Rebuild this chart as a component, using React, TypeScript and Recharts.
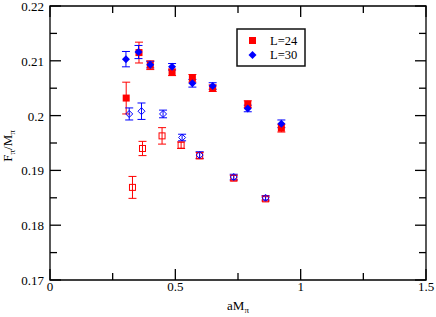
import React from 'react';
import { ScatterChart, Scatter, XAxis, YAxis, ErrorBar, ReferenceArea } from 'recharts';

// ---- data ----
const L24_X = [0.304, 0.355, 0.40, 0.487, 0.568, 0.649, 0.789, 0.923];
const L24_Y = [0.2032, 0.2115, 0.2092, 0.2079, 0.2068, 0.2050, 0.2021, 0.1977];
const L24_ERR = [0.0029, 0.0019, 0.0008, 0.0006, 0.0007, 0.0006, 0.0006, 0.0007];

const L30_X = [0.303, 0.353, 0.40, 0.487, 0.568, 0.649, 0.789, 0.923];
const L30_Y = [0.2103, 0.2116, 0.2093, 0.2089, 0.2059, 0.2054, 0.2013, 0.1985];
const L30_ERR = [0.0014, 0.0012, 0.0006, 0.0006, 0.0007, 0.0006, 0.0006, 0.0007];

const L24_OPEN_X = [0.329, 0.369, 0.447, 0.523, 0.597, 0.733, 0.860];
const L24_OPEN_Y = [0.1869, 0.1940, 0.1963, 0.1946, 0.1927, 0.1886, 0.1848];
const L24_OPEN_ERR = [0.0020, 0.0013, 0.0015, 0.0006, 0.0006, 0.0005, 0.0004];

const L30_OPEN_X = [0.316, 0.365, 0.451, 0.527, 0.597, 0.733, 0.860];
const L30_OPEN_Y = [0.2003, 0.2008, 0.2003, 0.1960, 0.1928, 0.1888, 0.1850];
const L30_OPEN_ERR = [0.0011, 0.0015, 0.0007, 0.0006, 0.0006, 0.0005, 0.0004];

const X_TICKS = [0, 0.25, 0.5, 0.75, 1, 1.25, 1.5];
const X_MAJOR = [0, 0.5, 1, 1.5];
const Y_TICKS = [0.17, 0.175, 0.18, 0.185, 0.19, 0.195, 0.2, 0.205, 0.21, 0.215, 0.22];
const Y_MAJOR = [0.17, 0.18, 0.19, 0.2, 0.21, 0.22];
const LEGEND_LABELS = ['L=24', 'L=30'];

const build = (xs: number[], ys: number[], es: number[]) =>
  xs.map((x, i) => ({ x, y: ys[i], err: es[i] }));

const d24 = build(L24_X, L24_Y, L24_ERR);
const d30 = build(L30_X, L30_Y, L30_ERR);
const d24o = build(L24_OPEN_X, L24_OPEN_Y, L24_OPEN_ERR);
const d30o = build(L30_OPEN_X, L30_OPEN_Y, L30_OPEN_ERR);

// ---- layout / style ----
const W = 436;
const H = 317;
const PLOT = { left: 50, right: 426, top: 6, bottom: 280 };
const MAJOR_LEN = 11;
const MINOR_LEN = 7;
const FONT = 'Liberation Serif, Times New Roman, serif';
const RED = '#ff0000';
const BLUE = '#0000ff';
const AXIS = '#000';

const isIn = (arr: number[], v: number) => arr.some((m) => Math.abs(m - v) < 1e-9);
const fmt = (v: number) => String(Math.round(v * 1000) / 1000);

const XTick = (props: any) => {
  const { x, payload } = props;
  const v = payload.value;
  const major = isIn(X_MAJOR, v);
  const len = major ? MAJOR_LEN : MINOR_LEN;
  return (
    <g>
      <line x1={x} x2={x} y1={PLOT.bottom} y2={PLOT.bottom - len} stroke={AXIS} strokeWidth={1.3} />
      <line x1={x} x2={x} y1={PLOT.top} y2={PLOT.top + len} stroke={AXIS} strokeWidth={1.3} />
      {major && (
        <text x={x} y={PLOT.bottom + 11} textAnchor="middle" fontFamily={FONT} fontSize={13} fill="#000">
          {fmt(v)}
        </text>
      )}
    </g>
  );
};

const YTick = (props: any) => {
  const { y, payload } = props;
  const v = payload.value;
  const major = isIn(Y_MAJOR, v);
  const len = major ? MAJOR_LEN : MINOR_LEN;
  return (
    <g>
      <line x1={PLOT.left} x2={PLOT.left + len} y1={y} y2={y} stroke={AXIS} strokeWidth={1.3} />
      <line x1={PLOT.right} x2={PLOT.right - len} y1={y} y2={y} stroke={AXIS} strokeWidth={1.3} />
      {major && (
        <text x={PLOT.left - 6} y={y + 5} textAnchor="end" fontFamily={FONT} fontSize={13} fill="#000">
          {fmt(v)}
        </text>
      )}
    </g>
  );
};

const FilledSquare = (p: any) => (
  <rect x={p.cx - 3.5} y={p.cy - 3.5} width={7} height={7} fill={RED} />
);
const FilledDiamond = (p: any) => (
  <path d={`M${p.cx},${p.cy - 4} L${p.cx + 4},${p.cy} L${p.cx},${p.cy + 4} L${p.cx - 4},${p.cy} Z`} fill={BLUE} />
);
const OpenSquare = (p: any) => (
  <rect x={p.cx - 3} y={p.cy - 3} width={6} height={6} fill="none" stroke={RED} strokeWidth={1} />
);
const OpenDiamond = (p: any) => (
  <path
    d={`M${p.cx},${p.cy - 3.5} L${p.cx + 3.5},${p.cy} L${p.cx},${p.cy + 3.5} L${p.cx - 3.5},${p.cy} Z`}
    fill="none"
    stroke={BLUE}
    strokeWidth={1}
  />
);

// legend drawn inside the chart svg, placed relative to the plot area
const LEG = { dx: 187, dy: 23, w: 68, h: 37, row: 14.5, font: 12.5 };
const LegendInPlot = (props: any) => {
  const vb = props.viewBox || { x: PLOT.left, y: PLOT.top };
  const x0 = vb.x + LEG.dx;
  const y0 = vb.y + LEG.dy;
  return (
    <g>
      <rect x={x0} y={y0} width={LEG.w} height={LEG.h} fill="#fff" stroke="#111" strokeWidth={1.5} />
      {LEGEND_LABELS.map((label, i) => {
        const cy = y0 + 11.5 + i * LEG.row;
        const cx = x0 + 15.5;
        return (
          <g key={label}>
            {i === 0 ? (
              <rect x={cx - 3.5} y={cy - 3.5} width={7} height={7} fill={RED} />
            ) : (
              <path d={`M${cx},${cy - 4} L${cx + 4},${cy} L${cx},${cy + 4} L${cx - 4},${cy} Z`} fill={BLUE} />
            )}
            <text x={x0 + 33} y={cy + 4.3} fontFamily={FONT} fontSize={LEG.font} fill="#000">
              {label}
            </text>
          </g>
        );
      })}
    </g>
  );
};

const YTitle = () => (
  <text
    transform={`translate(12, ${(PLOT.top + PLOT.bottom) / 2 + 3}) rotate(-90)`}
    textAnchor="middle"
    fontFamily={FONT}
    fontSize={13}
    fill="#000"
  >
    F<tspan fontSize={9} dy={3}>π</tspan>
    <tspan dy={-3}>/M</tspan>
    <tspan fontSize={9} dy={3}>π</tspan>
  </text>
);

const XTitle = () => (
  <text x={(PLOT.left + PLOT.right) / 2} y={310} textAnchor="middle" fontFamily={FONT} fontSize={13} fill="#000">
    aM<tspan fontSize={9} dy={3}>π</tspan>
  </text>
);

export default function App() {
  return (
    <div style={{ position: 'absolute', left: 0, top: 0, width: W, height: H, background: '#fff' }}>
      <ScatterChart
        width={W}
        height={H}
        margin={{ top: PLOT.top, right: W - PLOT.right, bottom: 0, left: 0 }}
      >
        <XAxis
          type="number"
          dataKey="x"
          domain={[0, 1.5]}
          ticks={X_TICKS}
          interval={0}
          tick={<XTick />}
          tickLine={false}
          axisLine={false}
          height={H - PLOT.bottom}
          allowDataOverflow
          label={<XTitle />}
        />
        <YAxis
          type="number"
          dataKey="y"
          domain={[0.17, 0.22]}
          ticks={Y_TICKS}
          interval={0}
          tick={<YTick />}
          tickLine={false}
          axisLine={false}
          width={PLOT.left}
          allowDataOverflow
          label={<YTitle />}
        />
        <ReferenceArea
          x1={0}
          x2={1.5}
          y1={0.17}
          y2={0.22}
          fill="none"
          stroke={AXIS}
          strokeWidth={1.3}
          fillOpacity={0}
          label={<LegendInPlot />}
        />
        <Scatter name="L=24" data={d24} shape={<FilledSquare />} fill={RED} isAnimationActive={false}>
          <ErrorBar dataKey="err" direction="y" width={4} stroke={RED} strokeWidth={1} isAnimationActive={false} />
        </Scatter>
        <Scatter name="L=30" data={d30} shape={<FilledDiamond />} fill={BLUE} isAnimationActive={false}>
          <ErrorBar dataKey="err" direction="y" width={4} stroke={BLUE} strokeWidth={1} isAnimationActive={false} />
        </Scatter>
        <Scatter name="L=24 open" data={d24o} shape={<OpenSquare />} fill={RED} isAnimationActive={false}>
          <ErrorBar dataKey="err" direction="y" width={4} stroke={RED} strokeWidth={1} isAnimationActive={false} />
        </Scatter>
        <Scatter name="L=30 open" data={d30o} shape={<OpenDiamond />} fill={BLUE} isAnimationActive={false}>
          <ErrorBar dataKey="err" direction="y" width={4} stroke={BLUE} strokeWidth={1} isAnimationActive={false} />
        </Scatter>
      </ScatterChart>
    </div>
  );
}
